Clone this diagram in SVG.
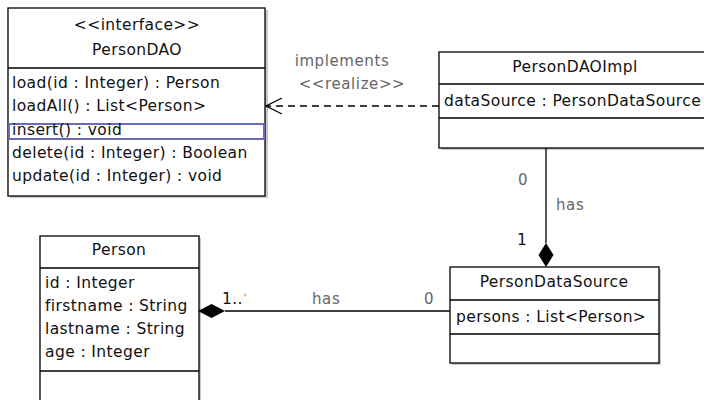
<svg xmlns="http://www.w3.org/2000/svg" width="704" height="400" viewBox="0 0 704 400">
  <defs>
    <style>
      .box { fill: #ffffff; stroke: #000000; stroke-width: 1.3; }
      .shadow { fill: #c8c8c8; }
      .sep { stroke: #000000; stroke-width: 1.3; }
      .t { font-family: "DejaVu Sans", "Liberation Sans", sans-serif; font-size: 15.5px; letter-spacing: 0.4px; fill: #111111; }
      .c { text-anchor: middle; }
      .lbl { font-family: "DejaVu Sans", "Liberation Sans", sans-serif; font-size: 15px; letter-spacing: 0.6px; fill: #666666; }
      .line { stroke: #000000; stroke-width: 1.3; fill: none; }
      .dash { stroke: #000000; stroke-width: 1.3; fill: none; stroke-dasharray: 7 5; }
    </style>
    <marker id="openArrow" viewBox="0 0 18 18" refX="17" refY="9" markerWidth="18" markerHeight="18" markerUnits="userSpaceOnUse" orient="auto">
      <path d="M1,1 L17,9 L1,17" fill="none" stroke="#000000" stroke-width="1.2"/>
    </marker>
  </defs>

  <!-- interface PersonDAO -->
  <g id="PersonDAO">
    <rect class="shadow" x="10" y="10" width="258" height="188"/>
    <rect class="box" x="8" y="8" width="257" height="188"/>
    <line class="sep" x1="8" y1="68" x2="265" y2="68"/>
    <text class="t c" x="137" y="30">&lt;&lt;interface&gt;&gt;</text>
    <text class="t c" x="137" y="55">PersonDAO</text>
    <text class="t" x="12" y="88">load(id : Integer) : Person</text>
    <text class="t" x="12" y="111">loadAll() : List&lt;Person&gt;</text>
    <!-- selected operation -->
    <rect x="9" y="124" width="255" height="15" fill="none" stroke="#6a6ab8" stroke-width="2"/>
    <text class="t" x="12" y="135">insert() : void</text>
    <text class="t" x="12" y="158">delete(id : Integer) : Boolean</text>
    <text class="t" x="12" y="181">update(id : Integer) : void</text>
  </g>

  <!-- class PersonDAOImpl -->
  <g id="PersonDAOImpl">
    <rect class="shadow" x="441" y="54" width="270" height="96"/>
    <rect class="box" x="439" y="52" width="270" height="96"/>
    <line class="sep" x1="439" y1="84" x2="709" y2="84"/>
    <line class="sep" x1="439" y1="118" x2="709" y2="118"/>
    <text class="t c" x="575" y="72">PersonDAOImpl</text>
    <text class="t" x="444" y="106">dataSource : PersonDataSource</text>
  </g>

  <!-- class Person -->
  <g id="Person">
    <rect class="shadow" x="42" y="238" width="159" height="170"/>
    <rect class="box" x="40" y="236" width="159" height="170"/>
    <line class="sep" x1="40" y1="268" x2="199" y2="268"/>
    <line class="sep" x1="40" y1="371" x2="199" y2="371"/>
    <text class="t c" x="119" y="255">Person</text>
    <text class="t" x="45" y="288">id : Integer</text>
    <text class="t" x="45" y="311">firstname : String</text>
    <text class="t" x="45" y="334">lastname : String</text>
    <text class="t" x="45" y="357">age : Integer</text>
  </g>

  <!-- class PersonDataSource -->
  <g id="PersonDataSource">
    <rect class="shadow" x="452" y="269" width="209" height="96"/>
    <rect class="box" x="450" y="267" width="209" height="96"/>
    <line class="sep" x1="450" y1="300" x2="659" y2="300"/>
    <line class="sep" x1="450" y1="334" x2="659" y2="334"/>
    <text class="t c" x="554" y="287">PersonDataSource</text>
    <text class="t" x="456" y="322">persons : List&lt;Person&gt;</text>
  </g>

  <!-- connectors -->
  <g id="connectors">
    <!-- realization PersonDAOImpl -> PersonDAO -->
    <line class="dash" x1="439" y1="106" x2="266" y2="106" marker-end="url(#openArrow)"/>
    <text class="lbl c" x="342" y="66">implements</text>
    <text class="lbl c" x="352" y="89" letter-spacing="1.5">&lt;&lt;realize&gt;&gt;</text>

    <!-- composition PersonDataSource in PersonDAOImpl -->
    <line class="line" x1="546" y1="148" x2="546" y2="243"/>
    <path d="M546,243 L553.5,255 L546,267 L538.5,255 Z" fill="#000000"/>
    <text class="lbl" x="518" y="185">0</text>
    <text class="lbl" x="556" y="210">has</text>
    <text class="t" x="517" y="245">1</text>

    <!-- composition Person in PersonDataSource -->
    <line class="line" x1="225" y1="311" x2="450" y2="311"/>
    <path d="M198,311 L211.5,304 L225,311 L211.5,318 Z" fill="#000000"/>
    <text class="t" x="222" y="304">1..<tspan fill="#b0b0b0" font-size="8px" dy="-4">*</tspan></text>
    <text class="lbl" x="312" y="304">has</text>
    <text class="lbl" x="424" y="304">0</text>
  </g>
</svg>
